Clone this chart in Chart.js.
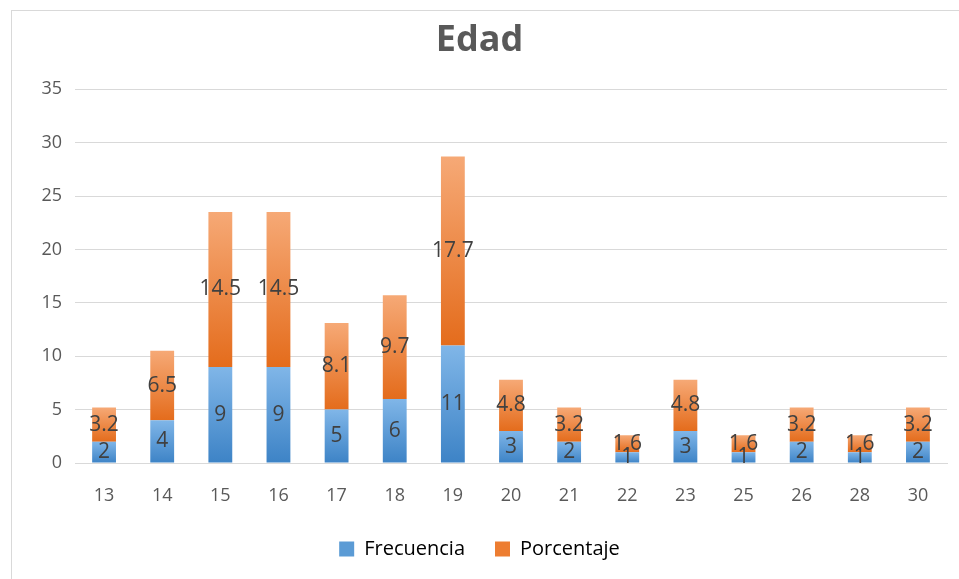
<!DOCTYPE html>
<html>
<head>
<meta charset="utf-8">
<script src="https://cdn.jsdelivr.net/npm/chart.js@4"></script>
<style>
  html, body { margin: 0; padding: 0; background: #fff; }
  #wrap { position: relative; width: 959px; height: 579px; }
  #frame { position: absolute; left: 11px; top: 10px; right: -2px; bottom: -2px;
           border-left: 1px solid #d9d9d9; border-top: 1px solid #d9d9d9; }
  canvas { position: absolute; left: 0; top: 0; }
</style>
</head>
<body>
<div id="wrap">
  <div id="frame"></div>
  <canvas id="edadChart"></canvas>
</div>
<script>
Chart.defaults.animation = false;
Chart.defaults.font.family = "'Open Sans', sans-serif";

// ---- data ----
const edades = ["13", "14", "15", "16", "17", "18", "19", "20", "21", "22", "23", "25", "26", "28", "30"];
const frecuencia = [2, 4, 9, 9, 5, 6, 11, 3, 2, 1, 3, 1, 2, 1, 2];
const porcentaje = [3.2, 6.5, 14.5, 14.5, 8.1, 9.7, 17.7, 4.8, 3.2, 1.6, 4.8, 1.6, 3.2, 1.6, 3.2];
const yTicks = [0, 5, 10, 15, 20, 25, 30, 35];

const blue = ["#80b6e8", "#3d83c6"];
const orange = ["#f6a976", "#e46c1c"];

// gradient per segment, top light -> bottom dark
function segGradient(ctx, cols, base, vals) {
  const y = ctx.chart.scales.y;
  const i = ctx.dataIndex;
  if (!y || i === undefined) return cols[1];
  const lo = base ? base[i] : 0;
  const hi = lo + vals[i];
  const yTop = y.getPixelForValue(hi);
  const yBot = y.getPixelForValue(lo);
  if (!isFinite(yTop) || !isFinite(yBot) || yTop === yBot) return cols[1];
  const g = ctx.chart.ctx.createLinearGradient(0, yTop, 0, yBot);
  g.addColorStop(0, cols[0]);
  g.addColorStop(1, cols[1]);
  return g;
}

// value labels in the middle of each segment
const segLabels = {
  id: "segLabels",
  afterDatasetsDraw(chart) {
    const c = chart.ctx;
    c.save();
    c.font = "21px 'Open Sans', sans-serif";
    c.fillStyle = "#404040";
    c.textAlign = "center";
    c.textBaseline = "middle";
    chart.data.datasets.forEach((ds, di) => {
      chart.getDatasetMeta(di).data.forEach((el, i) => {
        c.fillText(String(ds.data[i]), el.x, (el.y + el.base) / 2);
      });
    });
    c.restore();
  }
};

new Chart(document.getElementById("edadChart"), {
  type: "bar",
  data: {
    labels: edades,
    datasets: [
      {
        label: "Frecuencia",
        data: frecuencia,
        backgroundColor: ctx => segGradient(ctx, blue, null, frecuencia),
        barPercentage: 0.41,
        categoryPercentage: 1
      },
      {
        label: "Porcentaje",
        data: porcentaje,
        backgroundColor: ctx => segGradient(ctx, orange, frecuencia, porcentaje),
        barPercentage: 0.41,
        categoryPercentage: 1
      }
    ]
  },
  options: {
    responsive: true,
    maintainAspectRatio: false,
    layout: { padding: { left: 12, right: 12, top: 10, bottom: 10 } },
    plugins: {
      title: {
        display: true,
        text: "Edad",
        color: "#595959",
        font: { size: 36, weight: "bold" },
        padding: { top: 9, bottom: 27 }
      },
      legend: {
        position: "bottom",
        labels: {
          color: "#595959",
          font: { size: 20 },
          boxWidth: 15,
          boxHeight: 15,
          padding: 30,
          generateLabels: chart => chart.data.datasets.map((d, i) => ({
            text: d.label,
            fillStyle: i === 0 ? "#5b9bd5" : "#ed7d31",
            strokeStyle: i === 0 ? "#5b9bd5" : "#ed7d31",
            lineWidth: 0,
            datasetIndex: i,
            hidden: false
          }))
        }
      },
      tooltip: { enabled: false }
    },
    scales: {
      x: {
        stacked: true,
        grid: { display: false },
        border: { color: "#d9d9d9" },
        ticks: { color: "#595959", font: { size: 18 }, padding: 14 },
        afterFit: s => { s.height = 46; }
      },
      y: {
        stacked: true,
        min: 0,
        max: 35,
        afterBuildTicks: s => { s.ticks = yTicks.map(v => ({ value: v })); },
        grid: { color: "#d9d9d9", drawTicks: false },
        border: { display: false },
        ticks: { color: "#595959", font: { size: 18 }, padding: 13 },
        afterFit: s => { s.width = 63; }
      }
    }
  },
  plugins: [segLabels]
});
</script>
</body>
</html>
